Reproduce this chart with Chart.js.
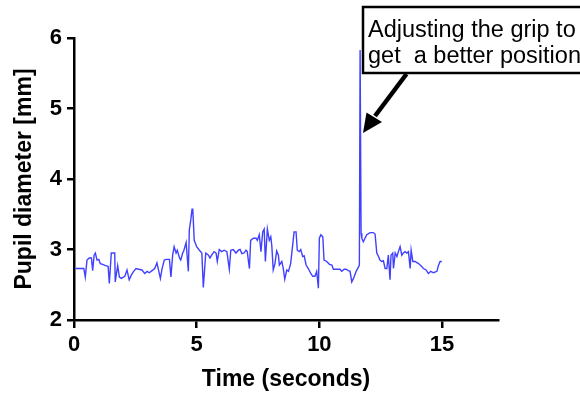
<!DOCTYPE html>
<html>
<head>
<meta charset="utf-8">
<script src="https://cdn.jsdelivr.net/npm/chart.js@4/dist/chart.umd.min.js"></script>
<style>
  html, body { margin: 0; padding: 0; background: #fff; }
  #wrap { width: 580px; height: 395px; position: relative; }
</style>
</head>
<body>
<div id="wrap"><canvas id="c" width="580" height="395"></canvas></div>
<script>
// Time (seconds)
const timeSec = [0.05,0.40,0.46,0.53,0.62,0.71,0.76,0.82,0.87,0.94,1.01,1.07,1.17,1.28,1.39,1.44,1.52,1.66,1.68,1.78,
  1.85,1.93,2.07,2.16,2.25,2.34,2.43,2.53,2.64,2.77,2.88,2.98,3.07,3.18,3.29,3.38,3.45,3.52,3.59,3.68,
  3.75,3.89,3.95,4.02,4.08,4.16,4.21,4.30,4.35,4.43,4.48,4.57,4.66,4.70,4.76,4.81,4.84,4.90,5.00,5.11,
  5.21,5.27,5.37,5.48,5.54,5.61,5.71,5.79,5.84,5.92,6.02,6.12,6.23,6.33,6.39,6.49,6.60,6.70,6.77,6.84,
  6.93,7.01,7.06,7.15,7.20,7.31,7.42,7.47,7.55,7.62,7.69,7.75,7.80,7.88,7.96,8.02,8.06,8.12,8.19,8.26,
  8.33,8.37,8.47,8.53,8.59,8.67,8.74,8.83,8.92,8.97,9.05,9.10,9.18,9.24,9.32,9.38,9.46,9.55,9.65,9.73,
  9.82,9.89,9.96,10.00,10.06,10.14,10.19,10.30,10.41,10.51,10.57,10.71,10.84,10.91,11.01,11.09,11.18,11.25,11.32,11.39,
  11.50,11.59,11.63,11.66,11.70,11.73,11.79,11.86,11.93,12.07,12.20,12.27,12.34,12.41,12.47,12.54,12.61,12.68,12.75,12.81,
  12.88,12.92,12.99,13.02,13.09,13.16,13.22,13.29,13.36,13.42,13.49,13.56,13.63,13.70,13.74,13.81,13.90,14.04,14.17,14.24,
  14.35,14.44,14.54,14.65,14.79,14.85,14.92,14.99];
// Pupil diameter (mm)
const pupilMm = [2.73,2.73,2.61,2.85,2.88,2.88,2.70,2.92,2.95,2.85,2.86,2.80,2.79,2.77,2.76,2.52,2.95,2.95,2.54,2.77,
  2.61,2.59,2.62,2.71,2.57,2.64,2.69,2.73,2.72,2.71,2.66,2.69,2.67,2.70,2.73,2.81,2.70,2.59,2.73,2.85,
  2.86,2.86,2.61,2.92,3.04,2.95,2.99,2.88,2.85,2.95,2.99,3.10,2.69,3.28,3.42,3.57,3.58,3.13,3.04,2.99,
  2.95,2.46,2.95,2.92,2.88,2.92,2.97,2.95,2.83,3.00,2.97,2.99,2.97,2.72,2.99,3.00,2.95,2.99,3.00,2.94,
  2.95,2.99,2.97,2.73,3.13,3.16,3.16,3.13,3.21,2.97,3.25,3.29,2.83,3.29,3.13,3.18,3.06,2.71,2.80,2.98,
  2.92,2.78,2.83,2.73,2.58,2.71,2.69,2.80,3.09,3.25,3.25,2.99,2.97,3.00,2.90,2.91,2.78,2.73,2.66,2.62,
  2.62,2.69,2.45,3.16,3.21,3.18,2.85,2.83,2.79,2.78,2.72,2.72,2.72,2.69,2.72,2.72,2.70,2.69,2.54,2.59,
  2.69,2.75,2.78,5.83,3.23,3.16,3.11,3.16,3.21,3.24,3.24,3.22,2.95,2.90,2.85,2.83,2.84,2.73,2.73,2.92,
  2.57,2.92,2.95,2.73,2.95,2.90,2.97,3.04,2.92,2.95,2.97,2.95,2.97,2.73,2.99,2.83,2.83,2.80,2.76,2.73,
  2.71,2.66,2.69,2.67,2.69,2.77,2.83,2.83];
const xTicks = [0, 5, 10, 15];
const yTicks = [2, 3, 4, 5, 6];
const xTitle = 'Time (seconds)';
const yTitle = 'Pupil diameter [mm]';
const noteLines = ['Adjusting the grip to', 'get  a better position'];

const points = timeSec.map((t, i) => ({ x: t, y: pupilMm[i] }));

const annotationPlugin = {
  id: 'note',
  afterDraw(chart) {
    const ctx = chart.ctx;
    ctx.save();
    // box
    ctx.fillStyle = '#fff';
    ctx.fillRect(363, 7, 240, 66);
    ctx.strokeStyle = '#000';
    ctx.lineWidth = 2.5;
    ctx.strokeRect(363, 7, 240, 66);
    // text
    ctx.fillStyle = '#000';
    ctx.font = '23.5px "Liberation Sans", Arial, sans-serif';
    ctx.textAlign = 'left';
    ctx.textBaseline = 'alphabetic';
    ctx.fillText(noteLines[0], 368, 37);
    ctx.fillText(noteLines[1], 368, 63);
    // arrow
    ctx.lineWidth = 4.5;
    ctx.lineCap = 'butt';
    ctx.beginPath();
    ctx.moveTo(406.5, 74);
    ctx.lineTo(375, 116);
    ctx.stroke();
    ctx.beginPath();
    ctx.moveTo(363, 133);
    ctx.lineTo(366.5, 112.5);
    ctx.lineTo(382, 122);
    ctx.closePath();
    ctx.fill();
    ctx.restore();
  }
};

new Chart(document.getElementById('c'), {
  type: 'line',
  data: {
    datasets: [{
      data: points,
      borderColor: '#4040ff',
      borderWidth: 1.4,
      pointRadius: 0,
      tension: 0,
      fill: false
    }]
  },
  options: {
    responsive: false,
    animation: false,
    layout: { padding: { top: 38, right: 82, left: 0, bottom: 0 } },
    plugins: { legend: { display: false }, tooltip: { enabled: false } },
    scales: {
      x: {
        type: 'linear',
        min: 0,
        max: 17.28,
        afterFit(s) { s.height = 75; },
        afterBuildTicks(s) { s.ticks = xTicks.map(v => ({ value: v })); },
        border: { display: true, color: '#000', width: 2.5 },
        grid: { drawOnChartArea: false, drawTicks: true, tickLength: 8, color: '#000', lineWidth: 2.5 },
        ticks: {
          color: '#000',
          font: { family: '"Liberation Sans", Arial, sans-serif', size: 22, weight: 'bold' },
          padding: 4,
          maxRotation: 0,
          autoSkip: false,
          callback: v => String(v)
        },
        title: {
          display: true,
          text: xTitle,
          color: '#000',
          font: { family: '"Liberation Sans", Arial, sans-serif', size: 23, weight: 'bold' },
          padding: { top: 0, bottom: 2 }
        }
      },
      y: {
        type: 'linear',
        min: 2,
        max: 6,
        afterFit(s) { s.width = 74; },
        afterBuildTicks(s) { s.ticks = yTicks.map(v => ({ value: v })); },
        border: { display: true, color: '#000', width: 2.5 },
        grid: { drawOnChartArea: false, drawTicks: true, tickLength: 7, color: '#000', lineWidth: 2.5 },
        ticks: {
          color: '#000',
          font: { family: '"Liberation Sans", Arial, sans-serif', size: 22, weight: 'bold' },
          padding: 5,
          autoSkip: false,
          callback: v => String(v)
        },
        title: {
          display: true,
          text: yTitle,
          color: '#000',
          font: { family: '"Liberation Sans", Arial, sans-serif', size: 23, weight: 'bold' },
          padding: { top: 11, bottom: 0 }
        }
      }
    }
  },
  plugins: [annotationPlugin]
});
</script>
</body>
</html>
